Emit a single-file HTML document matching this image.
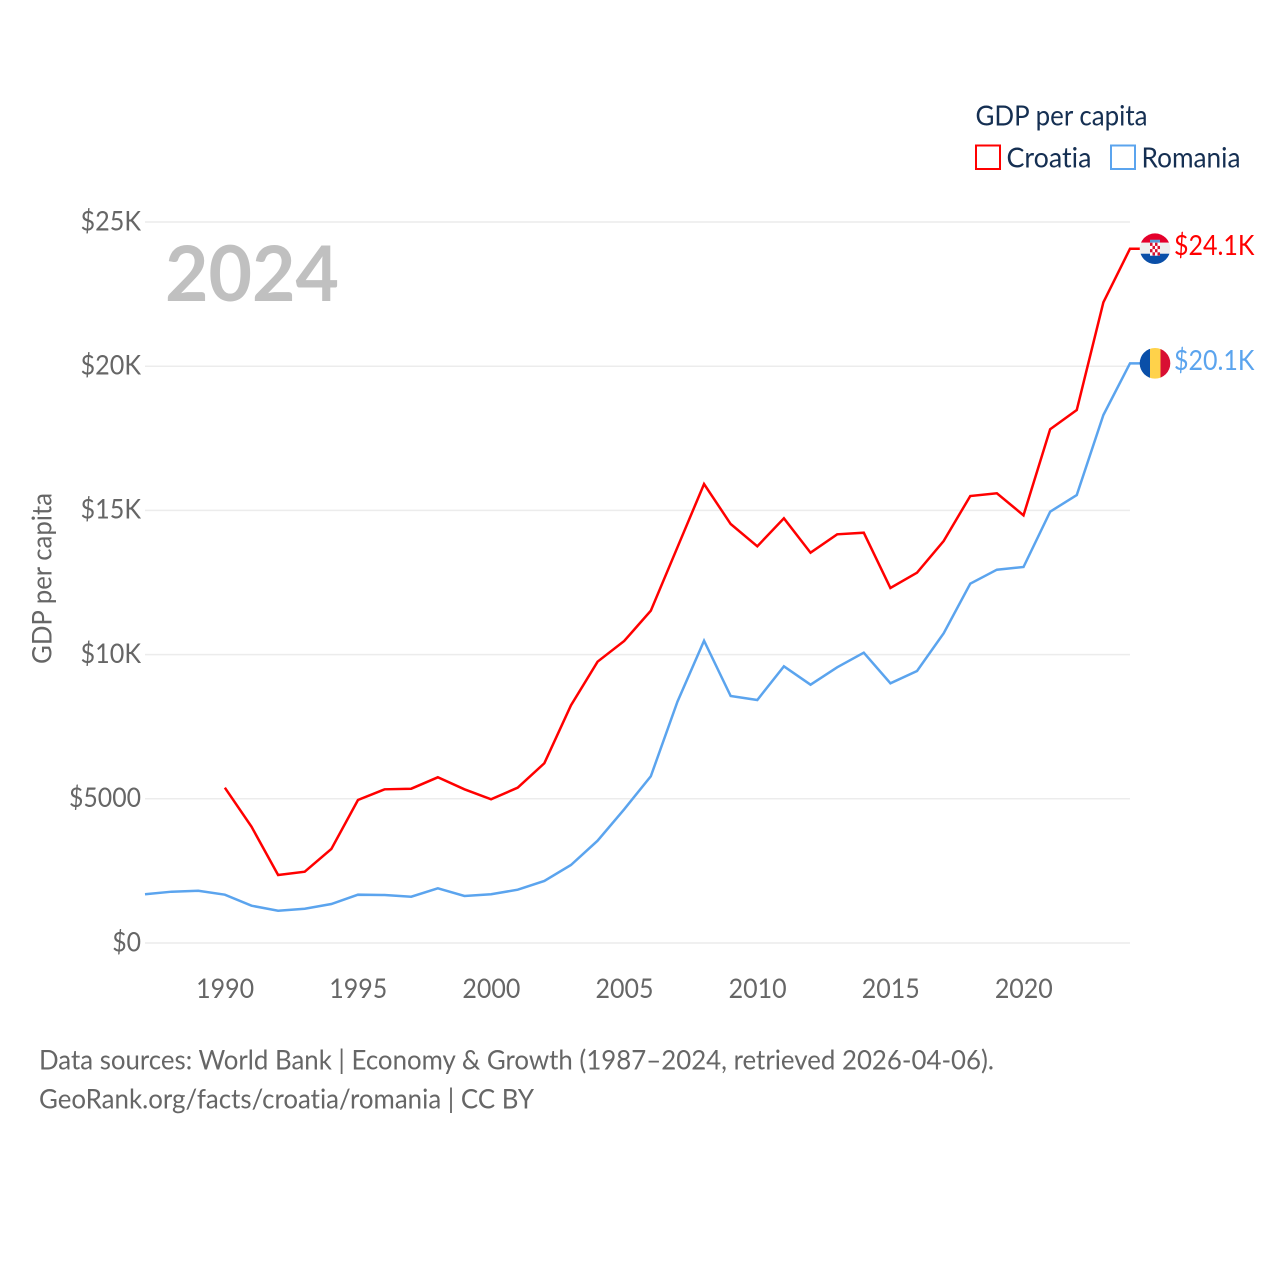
<!DOCTYPE html>
<html lang="en">
<head>
<meta charset="utf-8">
<title>GDP per capita: Croatia and Romania</title>
<style>
html,body{margin:0;padding:0;background:#fff;}
svg{display:block;}
text{font-family:"Lato","Carlito","Liberation Sans",sans-serif;font-variant-ligatures:none;}
</style>
</head>
<body>
<svg id="chart" width="1280" height="1280" viewBox="0 0 1280 1280" xmlns="http://www.w3.org/2000/svg">
  <defs>
    <clipPath id="flag-clip"><circle cx="0" cy="0" r="15.300"></circle></clipPath>
  </defs>
  <g id="grid"></g>
  <g id="y-labels"></g>
  <g id="x-labels"></g>
  <text transform="translate(51.5,578.5) rotate(-90)" text-anchor="middle" font-size="27" fill="#666666" textLength="171" lengthAdjust="spacingAndGlyphs">GDP per capita</text>
  <text x="165" y="301" font-size="77" font-weight="700" fill="#c0c0c0" textLength="174" lengthAdjust="spacingAndGlyphs">2024</text>
  <g id="series"></g>
  <g id="flag-croatia" clip-path="url(#flag-clip)">
    <rect x="-16" y="-16" width="32" height="10" fill="#e4002b"></rect>
    <rect x="-16" y="-6" width="32" height="11" fill="#eeeeee"></rect>
    <rect x="-16" y="5" width="32" height="11" fill="#0a4fa8"></rect>
    <rect x="-5" y="-9" width="10" height="3" fill="#5b9bd5"></rect>
    <rect x="-5" y="-6" width="10" height="13" fill="#ffffff"></rect>
    <rect x="-5" y="-6" width="2.500" height="3.200" fill="#d8112f"></rect>
    <rect x="0" y="-6" width="2.500" height="3.200" fill="#d8112f"></rect>
    <rect x="-2.500" y="-2.800" width="2.500" height="3.200" fill="#d8112f"></rect>
    <rect x="2.500" y="-2.800" width="2.500" height="3.200" fill="#d8112f"></rect>
    <rect x="-5" y="0.400" width="2.500" height="3.200" fill="#d8112f"></rect>
    <rect x="0" y="0.400" width="2.500" height="3.200" fill="#d8112f"></rect>
    <rect x="-2.500" y="3.600" width="2.500" height="3.200" fill="#d8112f"></rect>
    <rect x="2.500" y="3.600" width="2.500" height="3.200" fill="#d8112f"></rect>
  </g>
  <g id="flag-romania" clip-path="url(#flag-clip)">
    <rect x="-16" y="-16" width="11" height="32" fill="#0a4fa8"></rect>
    <rect x="-5" y="-16" width="10.500" height="32" fill="#ffd24a"></rect>
    <rect x="5.500" y="-16" width="11" height="32" fill="#d80f33"></rect>
  </g>
  <g id="end-labels"></g>
  <g>
    <text x="975.500" y="125.500" font-size="28" fill="#152f52" textLength="172" lengthAdjust="spacingAndGlyphs">GDP per capita</text>
    <g>
      <rect x="976" y="145.500" width="24" height="23.500" fill="none" stroke="#ff0000" stroke-width="2"></rect>
      <text x="1006.500" y="167.300" font-size="28" fill="#152f52" textLength="85" lengthAdjust="spacingAndGlyphs">Croatia</text>
    </g>
    <g>
      <rect x="1111" y="145.500" width="24" height="23.500" fill="none" stroke="#5ba4ee" stroke-width="2"></rect>
      <text x="1141.500" y="167.300" font-size="28" fill="#152f52" textLength="99" lengthAdjust="spacingAndGlyphs">Romania</text>
    </g>
  </g>
  <text x="39" y="1069.700" font-size="27" fill="#666666" textLength="955" lengthAdjust="spacingAndGlyphs">Data sources: World Bank | Economy &amp; Growth (1987–2024, retrieved 2026-04-06).</text>
  <text x="39" y="1108.700" font-size="27" fill="#666666" textLength="495" lengthAdjust="spacingAndGlyphs">GeoRank.org/facts/croatia/romania | CC BY</text>
</svg>
<script>
const startYear = 1987;
const endYear = 2024;
const croatiaStart = 1990;
const croatiaValues = [5385,4033,2358,2472,3259,4958,5329,5350,5746,5329,4983,5385,6231,8242,9754,10472,11522,13720,15915,14528,13755,14726,13533,14171,14227,12309,12840,13939,15499,15593,14830,17812,18481,22216,24074];
const romaniaStart = 1987;
const romaniaValues = [1689,1779,1813,1675,1293,1120,1189,1352,1675,1664,1605,1897,1630,1689,1848,2150,2705,3547,4636,5780,8367,10482,8564,8426,9594,8956,9560,10066,9005,9431,10739,12459,12944,13037,14955,15534,18308,20100];
const yTickValues = [0,5000,10000,15000,20000,25000];
const yTickLabels = ["$0","$5000","$10K","$15K","$20K","$25K"];
const xTickYears = [1990,1995,2000,2005,2010,2015,2020];
const endLabelCroatia = "$24.1K";
const endLabelRomania = "$20.1K";

const NS = 'http://www.w3.org/2000/svg';
function xScale(year){ return 145 + (year - startYear) * (1130 - 145) / (endYear - startYear); }
function yScale(v){ return 943 - v * (943 - 222) / 25000; }
function approxWidth(label, unit){
  let w = 0;
  for (const ch of label) w += (ch === 'K' ? 1.2 : ch === '.' ? 0.5 : 1) * unit;
  return w;
}
function makeText(parent, x, y, str, size, fill, anchor, width){
  const t = document.createElementNS(NS, 'text');
  t.setAttribute('x', x);
  t.setAttribute('y', y);
  t.setAttribute('font-size', size);
  t.setAttribute('fill', fill);
  t.setAttribute('text-anchor', anchor);
  t.setAttribute('textLength', width);
  t.setAttribute('lengthAdjust', 'spacingAndGlyphs');
  t.textContent = str;
  parent.appendChild(t);
  return t;
}
const grid = document.getElementById('grid');
const yLabels = document.getElementById('y-labels');
yTickValues.forEach(function(v, i){
  const l = document.createElementNS(NS, 'line');
  
  
  l.setAttribute('x1', 145);
  l.setAttribute('x2', 1130);
  l.setAttribute('y1', yScale(v));
  l.setAttribute('y2', yScale(v));
  l.setAttribute('stroke', '#ececec');
  l.setAttribute('stroke-width', 1.5);
  grid.appendChild(l);
  const lab = yTickLabels[i];
  const t = makeText(yLabels, 141, yScale(v) + 8.3, lab, 27, '#666666', 'end', approxWidth(lab, 14.4));
  
  
});
const xLabels = document.getElementById('x-labels');
xTickYears.forEach(function(y){
  const t = makeText(xLabels, xScale(y) + 0.3, 998, String(y), 27, '#666666', 'middle', 58);
  
  
});
function linePoints(values, first){
  return values.map(function(v, i){ return xScale(first + i).toFixed(2) + ',' + yScale(v).toFixed(2); });
}
const series = document.getElementById('series');
function drawSeries(values, first, color, name){
  const last = values[values.length - 1];
  const pts = linePoints(values, first);
  pts.push('1140,' + yScale(last).toFixed(2));
  const p = document.createElementNS(NS, 'polyline');
  
  
  p.setAttribute('points', pts.join(' '));
  p.setAttribute('fill', 'none');
  p.setAttribute('stroke', color);
  p.setAttribute('stroke-width', 2.5);
  p.setAttribute('stroke-linejoin', 'miter');
  series.appendChild(p);
}
drawSeries(romaniaValues, romaniaStart, '#5ba4ee', 'line-romania');
drawSeries(croatiaValues, croatiaStart, '#ff0000', 'line-croatia');
const cLast = yScale(croatiaValues[croatiaValues.length - 1]);
const rLast = yScale(romaniaValues[romaniaValues.length - 1]);
document.getElementById('flag-croatia').setAttribute('transform', 'translate(1155,' + cLast + ')');
document.getElementById('flag-romania').setAttribute('transform', 'translate(1155,' + rLast + ')');
const endLabels = document.getElementById('end-labels');
const endC = makeText(endLabels, 1174, cLast + 6.5, endLabelCroatia, 28, '#ff0000', 'start', 80.5);


const endR = makeText(endLabels, 1174, rLast + 6.5, endLabelRomania, 28, '#5ba4ee', 'start', 80.5);


</script>
</body>
</html>
